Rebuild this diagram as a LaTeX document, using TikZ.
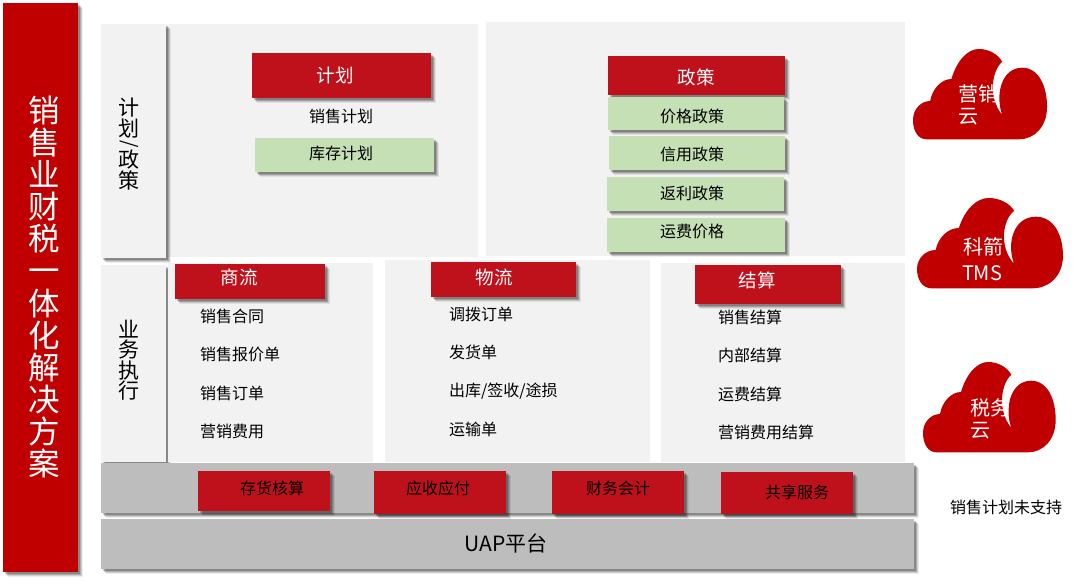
\documentclass[tikz,border=0pt]{standalone}
\usepackage{fontspec}
\setmainfont{Noto Sans CJK SC}
\usetikzlibrary{shadows}
\definecolor{titlered}{HTML}{C00000}
\definecolor{boxred}{HTML}{BF111B}
\definecolor{panelgray}{HTML}{F2F2F2}
\definecolor{bandgray}{HTML}{BDBDBD}
\definecolor{leafgreen}{HTML}{C5E0B4}
\tikzset{
  x=1pt,y=-1pt,
  shadowed/.style={
    drop shadow={shadow xshift=5pt,shadow yshift=-5pt,fill=black,opacity=.07},
    drop shadow={shadow xshift=4pt,shadow yshift=-4pt,fill=black,opacity=.12},
    drop shadow={shadow xshift=3pt,shadow yshift=-3pt,fill=black,opacity=.18},
    drop shadow={shadow xshift=2pt,shadow yshift=-2pt,fill=black,opacity=.2}},
  plate/.style={rectangle,inner sep=0pt,outer sep=0pt,draw=none},
  panel/.style={plate,fill=panelgray},
  sidebox/.style={plate,fill=panelgray,shadowed},
  redbox/.style={plate,fill=boxred,shadowed},
  greenbox/.style={plate,fill=leafgreen,shadowed},
  band/.style={plate,fill=bandgray,shadowed},
  titlebox/.style={plate,fill=titlered,shadowed},
  txt/.style={inner sep=0pt,outer sep=0pt,font=\fontsize{16}{18}\selectfont,text=black},
  listtxt/.style={txt,anchor=west},
  headtxt/.style={inner sep=0pt,outer sep=0pt,font=\fontsize{18.5}{20}\selectfont,text=white},
  cloudtxt/.style={inner sep=0pt,outer sep=0pt,font=\fontsize{20}{24}\selectfont,text=white},
  sidetxt/.style={inner sep=0pt,outer sep=0pt,align=center,font=\fontsize{21}{20.5}\selectfont,text=black},
  cloudfill/.style={fill=titlered,draw=none}
}
\newcommand{\bx}[6]{\node[#2,minimum width={(#5-#3)*1pt},minimum height={(#6-#4)*1pt}] (#1) at ({(#3+#5)/2},{(#4+#6)/2}) {};}
\newcommand{\cloudat}[3]{\fill[cloudfill,shift={(#1,#2)},xscale=#3] (88.3,12.7) .. controls (78,22) and (74,48) .. (88.3,66)
  .. controls (81,45) and (88,18.7) .. (108,18.7)
  .. controls (125,18.7) and (132.7,38) .. (132.7,57.7)
  .. controls (132.7,78) and (120,90.3) .. (105,90.3)
  -- (13.3,90.3) .. controls (5,90.3) and (0,82) .. (0,71)
  .. controls (0,60) and (8,52) .. (17,52)
  .. controls (19,40) and (28,30) .. (38,30)
  .. controls (44,10) and (55,0) .. (65,0)
  .. controls (75,0) and (84,5) .. (88.3,12.7) -- cycle;}
\begin{document}
\begin{tikzpicture}
\useasboundingbox (0,0) rectangle (1073,581);
\fill[white] (0,0) rectangle (1073,581);
% title
\bx{title}{titlebox}{3}{3}{78}{572}
\node[inner sep=0pt,align=center,text=white,font=\fontsize{31.5}{32.1}\selectfont] (titlet) at (44,287) {销\\售\\业\\财\\税\\一\\体\\化\\解\\决\\方\\案};
% top panels
\bx{pa}{panel}{101}{24}{478}{257}
\bx{pb}{panel}{486}{22}{905}{256}
\bx{sa}{sidebox}{101}{24}{166}{258}
\node[sidetxt] (sat) at (128.5,118) {计\\划};
\node[sidetxt,font=\fontsize{19}{20}\selectfont,rotate=-90] (sas) at (129.5,144.5) {/};
\node[sidetxt] (sau) at (128.5,170) {政\\策};
\bx{jh}{redbox}{252}{53}{431}{98}
\node[headtxt] (jht) at (335,75) {计划};
\node[txt] (xsjh) at (341,116) {销售计划};
\bx{kc}{greenbox}{255}{138}{434}{172}
\node[txt] (kct) at (341,153) {库存计划};
\bx{zc}{redbox}{608}{56}{785}{95}
\node[headtxt] (zct) at (696,77) {政策};
\bx{g1}{greenbox}{608}{97}{784}{130}
\node[txt] (g1t) at (692,116) {价格政策};
\bx{g2}{greenbox}{609}{136}{785}{170}
\node[txt] (g2t) at (692,154) {信用政策};
\bx{g3}{greenbox}{607}{177}{784}{211}
\node[txt] (g3t) at (692,193) {返利政策};
\bx{g4}{greenbox}{607}{218}{785}{252}
\node[txt] (g4t) at (692,231) {运费价格};
% middle row
\bx{sb}{sidebox}{101}{265}{166}{462}
\node[sidetxt] (sbt) at (128.5,360) {业\\务\\执\\行};
\bx{p1}{panel}{168}{263}{373}{462}
\bx{p2}{panel}{385}{260}{650}{462}
\bx{p3}{panel}{661}{263}{905}{462}
\bx{sl}{redbox}{175}{264}{325}{299}
\node[headtxt] (slt) at (239,277) {商流};
\bx{wl}{redbox}{431}{262}{576}{297}
\node[headtxt] (wlt) at (494,277) {物流};
\bx{js}{redbox}{695}{265}{841}{304}
\node[headtxt] (jst) at (757,280) {结算};
\node[listtxt] (a1) at (200,316) {销售合同};
\node[listtxt] (a2) at (200,354) {销售报价单};
\node[listtxt] (a3) at (200,393) {销售订单};
\node[listtxt] (a4) at (200,431) {营销费用};
\node[listtxt] (b1) at (449,314) {调拨订单};
\node[listtxt] (b2) at (449,352) {发货单};
\node[listtxt] (b3) at (449,391) {出库/签收/途损};
\node[listtxt] (b4) at (449,429) {运输单};
\node[listtxt] (c1) at (718,317) {销售结算};
\node[listtxt] (c2) at (718,355) {内部结算};
\node[listtxt] (c3) at (718,394) {运费结算};
\node[listtxt] (c4) at (718,432) {营销费用结算};
% bottom bands
\bx{bd}{band}{101}{463}{914}{513}
\bx{uap}{band}{101}{519}{914}{569}
\node[txt,font=\fontsize{21}{24}\selectfont] (uapt) at (506,543) {UAP平台};
\bx{r1}{redbox}{198}{471}{330}{511}
\node[txt] (r1t) at (272,488) {存货核算};
\bx{r2}{redbox}{374}{471}{506}{514}
\node[txt] (r2t) at (438,488) {应收应付};
\bx{r3}{redbox}{552}{471}{684}{514}
\node[txt] (r3t) at (618,488) {财务会计};
\bx{r4}{redbox}{721}{472}{853}{514}
\node[txt] (r4t) at (797,492) {共享服务};
% clouds
\cloudat{913}{49}{1.01}
\cloudat{917}{198}{1.1}
\cloudat{923}{362}{1}
\node[cloudtxt,anchor=west] (c1a) at (958,94) {营销};
\node[cloudtxt,anchor=west] (c1b) at (958,117) {云};
\node[cloudtxt,anchor=west] (c2a) at (963,247) {科箭};
\node[cloudtxt,anchor=west] (c2b) at (962,273) {TMS};
\node[cloudtxt,anchor=west] (c3a) at (970,408) {税务};
\node[cloudtxt,anchor=west] (c3b) at (970,431) {云};
\node[txt] (note) at (1006,507) {销售计划未支持};
\end{tikzpicture}
\end{document}
